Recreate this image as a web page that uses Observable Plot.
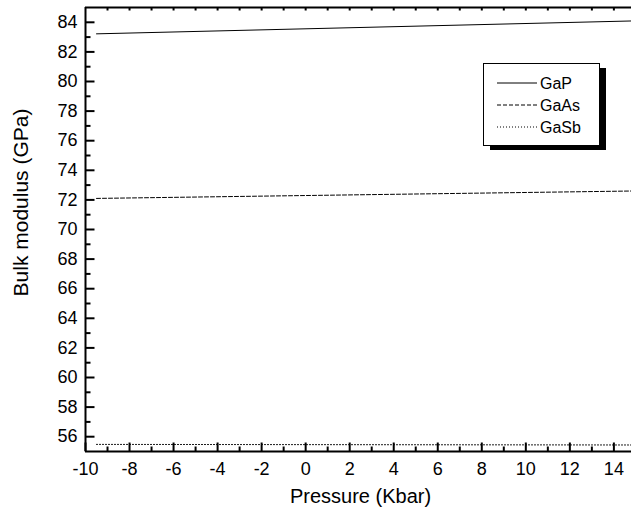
<!DOCTYPE html>
<html>
<head>
<meta charset="utf-8">
<script src="https://cdn.jsdelivr.net/npm/d3@7"></script>
<script src="https://cdn.jsdelivr.net/npm/@observablehq/plot@0.6"></script>
<style>
  html, body { margin: 0; padding: 0; background: #fff; }
  #wrap { position: relative; width: 631px; height: 513px; font-family: "Liberation Sans", Arial, sans-serif; }
  #legend { position: absolute; left: 483px; top: 63px; }
</style>
</head>
<body>
<div id="wrap"></div>
<script>
// ---- data ----
const series = ["GaP", "GaAs", "GaSb"];
const pressure = [-9.5, 14.8];
const gaP = [83.22, 84.09];
const gaAs = [72.1, 72.6];
const gaSb = [55.48, 55.44];
const xMajorTicks = [-10, -8, -6, -4, -2, 0, 2, 4, 6, 8, 10, 12, 14];
const xMinorTicks = [-9, -7, -5, -3, -1, 1, 3, 5, 7, 9, 11, 13];
const xTopTicks = [-9, -8, -7, -6, -5, -4, -3, -2, -1, 0, 1, 2, 3, 4, 5, 6, 7, 8, 9, 10, 11, 12, 13, 14];
const yMajorTicks = [56, 58, 60, 62, 64, 66, 68, 70, 72, 74, 76, 78, 80, 82, 84];
const yMinorTicks = [57, 59, 61, 63, 65, 67, 69, 71, 73, 75, 77, 79, 81, 83];
const xLabel = "Pressure (Kbar)";
const yLabel = "Bulk modulus (GPa)";

const values = {GaP: gaP, GaAs: gaAs, GaSb: gaSb};
const dashes = {GaP: null, GaAs: "4,2", GaSb: "1,2"};
const rows = series.flatMap(s => pressure.map((p, i) => ({series: s, p, v: values[s][i]})));

const xDomain = [-10, 14.8];
const yDomain = [55, 85];

// tick shapes (custom symbols)
const tick = (dx, dy) => ({draw(ctx) { ctx.moveTo(0, 0); ctx.lineTo(dx, dy); }});

const font = "Liberation Sans, Arial, sans-serif";

const chart = Plot.plot({
  width: 631,
  height: 513,
  marginLeft: 85,
  marginRight: 0,
  marginTop: 7,
  marginBottom: 62,
  style: {fontFamily: font, background: "white", color: "black"},
  x: {domain: xDomain, label: null},
  y: {domain: yDomain, label: null},
  marks: [
    Plot.axisY({ticks: yMajorTicks, tickSize: 0, tickPadding: 8, fontSize: 18, label: null, tickFormat: d => String(d)}),
    Plot.axisX({ticks: xMajorTicks, tickSize: 0, tickPadding: 11, fontSize: 18, label: null, tickFormat: d => String(d)}),
    // inward ticks
    Plot.dot(yMajorTicks, {y: d => d, frameAnchor: "left", symbol: tick(9, 0), stroke: "black", fill: "none", strokeWidth: 2}),
    Plot.dot(yMinorTicks, {y: d => d, frameAnchor: "left", symbol: tick(5, 0), stroke: "black", fill: "none", strokeWidth: 2}),
    Plot.dot(xMajorTicks, {x: d => d, frameAnchor: "bottom", symbol: tick(0, -9), stroke: "black", fill: "none", strokeWidth: 2}),
    Plot.dot(xMinorTicks, {x: d => d, frameAnchor: "bottom", symbol: tick(0, -5), stroke: "black", fill: "none", strokeWidth: 2}),
    Plot.dot(xTopTicks, {x: d => d, frameAnchor: "top", symbol: tick(0, 3), stroke: "black", fill: "none", strokeWidth: 2}),
    // axis lines
    Plot.ruleY([yDomain[0], yDomain[1]], {stroke: "black", strokeWidth: 2}),
    Plot.ruleX([xDomain[0]], {stroke: "black", strokeWidth: 2}),
    // series
    ...series.map(s => Plot.line(rows.filter(r => r.series === s), {
      x: "p", y: "v", stroke: "black", strokeWidth: 1, strokeDasharray: dashes[s]
    })),
    // titles
    Plot.text([xLabel], {text: d => d, frameAnchor: "bottom", dx: 2, dy: 45, fontSize: 20, lineAnchor: "middle", fill: "black"}),
    Plot.text([yLabel], {text: d => d, frameAnchor: "left", dx: -64, dy: -27, rotate: -90, fontSize: 21, lineAnchor: "middle", textAnchor: "middle", fill: "black"})
  ]
});

const wrap = document.getElementById("wrap");
wrap.appendChild(chart);

// legend overlay
const ns = "http://www.w3.org/2000/svg";
const leg = document.createElementNS(ns, "svg");
leg.setAttribute("id", "legend");
leg.setAttribute("width", 126);
leg.setAttribute("height", 90);
leg.style.position = "absolute";
leg.style.left = "483px";
leg.style.top = "63px";
let html = `<rect x="7" y="5" width="116" height="82" fill="black"/>
<rect x="0.5" y="0.5" width="116" height="82" fill="white" stroke="black" stroke-width="1"/>`;
series.forEach((s, i) => {
  const y = 20 + i * 22;
  html += `<line x1="14" x2="54" y1="${y}" y2="${y}" stroke="black" stroke-width="1" ${dashes[s] ? `stroke-dasharray="${dashes[s]}"` : ""}/>`;
  html += `<text x="57" y="${y}" dy="0.35em" font-size="16" font-family="${font}" fill="black">${s}</text>`;
});
leg.innerHTML = html;
wrap.appendChild(leg);
</script>
</body>
</html>
